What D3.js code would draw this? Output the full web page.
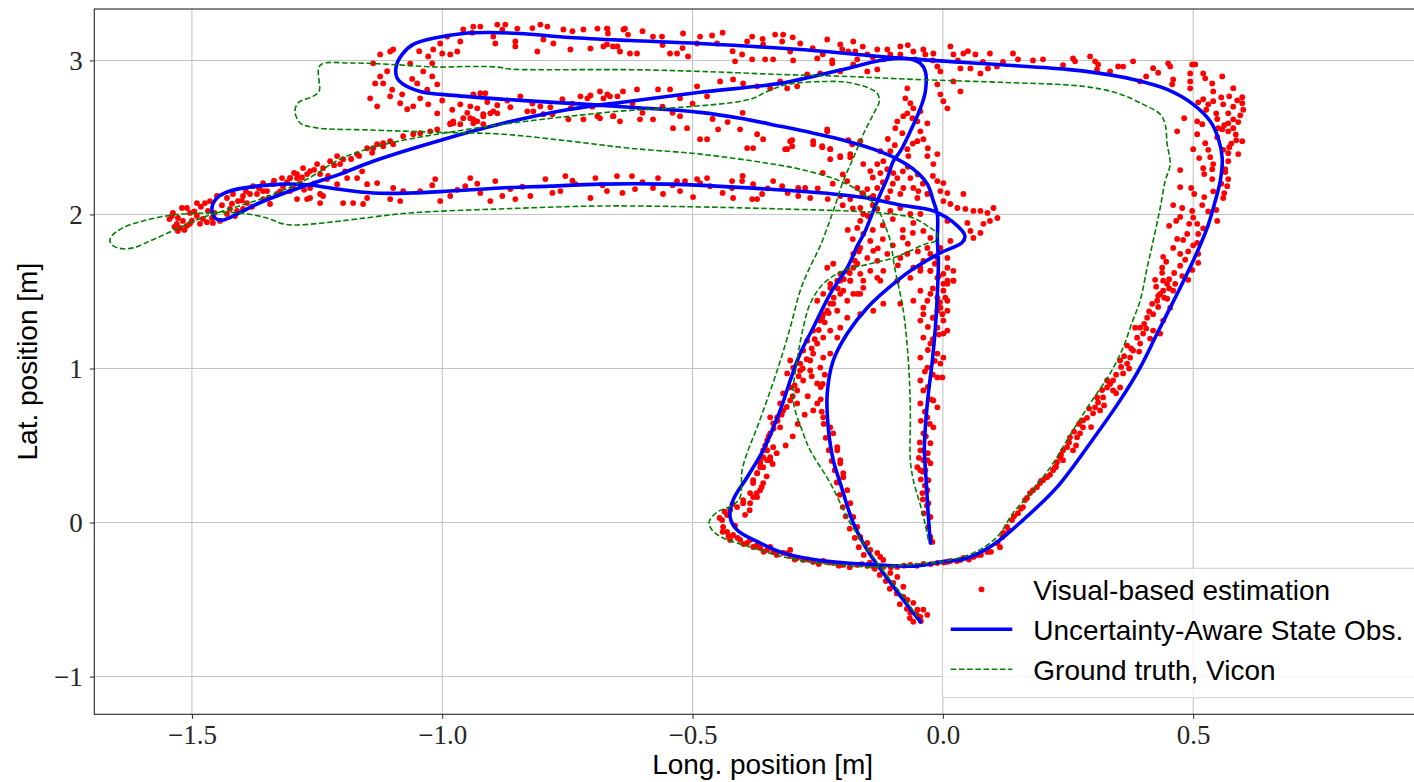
<!DOCTYPE html>
<html>
<head>
<meta charset="utf-8">
<script src="https://cdn.jsdelivr.net/npm/d3@7"></script>
<style>
    body { margin: 0; background: #fff; }
    svg { display: block; }
</style>
</head>
<body>
<svg id="chart" width="1414" height="782"></svg>
<script>
const xTicks = [-1.5, -1.0, -0.5, 0.0, 0.5];
const yTicks = [-1, 0, 1, 2, 3];
const seriesNames = ["Visual-based estimation", "Uncertainty-Aware State Obs.", "Ground truth, Vicon"];

// visual-based position estimates [long, lat] in m
const visualPoints = [
    // upper-left loop
    [-1.138,2.981],[-1.124,2.896],[-1.118,2.851],[-1.104,2.767],[-1.130,2.702],[-1.084,2.722],[-1.070,2.683],[-1.058,2.702],[-1.044,2.754],[-1.050,2.851],
    [-1.038,2.929],[-1.020,2.896],[-1.020,2.981],[-1.028,3.026],[-1.018,3.071],[-1.004,3.110],[-1.000,3.045],[-0.990,3.155],[-0.958,3.201],[-0.938,3.220],
    [-0.924,3.220],[-0.890,3.233],[-0.874,3.233],[-0.850,3.207],[-0.804,3.233],[-0.790,3.220],[-0.758,3.201],[-0.718,3.201],[-0.690,3.207],[-0.670,3.207],
    [-0.638,3.201],[-0.898,3.155],[-0.894,3.110],[-0.854,3.123],[-0.854,3.091],[-0.810,3.058],[-0.798,3.136],[-0.778,3.110],[-0.744,3.071],[-0.704,3.078],
    [-0.678,3.091],[-0.650,3.091],[-0.964,3.123],[-0.984,3.039],[-0.970,3.058],[-1.104,3.058],[-1.098,3.071],[-1.124,3.039],
    [-0.938,2.780],[-0.924,2.787],[-0.914,2.787],[-0.964,2.715],[-0.944,2.702],[-0.930,2.689],[-0.890,2.709],[-0.864,2.696],[-0.844,2.767],[-0.830,2.670],
    [-0.818,2.670],[-0.804,2.702],[-0.798,2.651],[-0.784,2.696],[-0.760,2.748],[-0.744,2.689],[-0.724,2.767],[-0.710,2.754],[-0.704,2.773],[-0.678,2.754],
    [-0.670,2.780],[-0.650,2.767],[-0.658,2.638],[-0.690,2.638],[-0.718,2.618],[-0.748,2.618],[-0.898,2.670],[-0.918,2.651],[-0.938,2.618],[-0.958,2.625],
    [-0.978,2.592],[-0.984,2.586],[-1.010,2.657],[-1.028,2.715],[-1.010,2.845],[-1.144,2.754],[-1.134,2.851],
    [-1.110,2.930],[-1.100,2.810],[-1.080,2.780],[-1.060,2.880],[-1.064,2.980],[-1.046,3.060],[-1.030,2.810],[-1.000,2.740],[-0.980,2.680],[-0.950,2.660],
    [-0.910,2.730],[-0.870,2.740],[-0.820,2.720],[-0.780,2.650],[-0.740,2.720],[-0.700,2.700],[-0.620,2.720],[-0.600,2.660],[-0.560,2.700],[-0.540,2.660],
    [-0.500,2.720],[-0.460,2.620],[-0.430,2.600],[-0.400,2.660],
    // top straight
    [-0.671,3.207],[-0.669,3.175],[-0.635,3.207],[-0.629,3.168],[-0.671,3.104],[-0.659,3.091],[-0.645,3.058],[-0.625,3.045],[-0.611,3.045],[-0.579,3.155],
    [-0.561,3.155],[-0.545,3.045],[-0.531,3.045],[-0.519,3.175],[-0.509,3.026],[-0.491,3.110],[-0.485,3.155],[-0.461,3.162],[-0.451,3.110],[-0.415,2.994],
    [-0.401,3.039],[-0.391,3.123],[-0.381,3.155],[-0.381,3.007],[-0.359,3.104],[-0.355,3.007],[-0.339,3.007],[-0.335,3.168],[-0.321,3.123],[-0.319,3.168],
    [-0.305,3.058],[-0.299,3.000],[-0.285,3.110],[-0.251,3.013],[-0.231,3.136],[-0.221,3.000],[-0.205,3.104],[-0.201,3.071],[-0.189,3.058],[-0.179,3.123],
    [-0.175,3.058],[-0.171,3.007],[-0.151,3.039],[-0.131,3.071],[-0.119,3.007],[-0.111,3.071],[-0.105,3.039],[-0.085,3.091],[-0.085,3.039],[-0.059,3.058],
    [-0.055,3.007],[-0.039,3.071],[-0.035,3.039],[-0.019,3.045],[-0.011,2.961],[-0.005,2.929],[0.015,3.091],[0.021,3.039],[0.035,2.948],[0.041,3.045],
    [0.055,2.948],[0.065,3.039],[0.075,2.916],[0.094,3.045],[0.090,2.948],[0.108,2.961],
    [-0.011,2.845],[0.001,2.735],[0.035,2.799],[0.021,2.864],[-0.005,2.780],[0.009,2.689],
    [-0.600,3.190],[-0.560,3.100],[-0.520,3.080],[-0.440,3.180],[-0.420,3.060],[-0.360,3.140],[-0.300,3.150],[-0.260,3.080],[-0.240,3.040],[-0.160,3.090],
    [-0.140,3.020],[-0.070,3.100],[-0.020,3.000],[0.030,3.000],[0.050,3.060],[0.080,2.990],[-0.820,3.210],[-0.740,3.190],[-0.880,3.200],[-0.940,3.180],
    // middle diagonals
    [-0.685,2.799],[-0.665,2.767],[-0.639,2.799],[-0.611,2.812],[-0.569,2.812],[-0.545,2.812],[-0.525,2.754],[-0.491,2.832],[-0.471,2.767],[-0.445,2.864],
    [-0.419,2.877],[-0.399,2.851],[-0.371,2.832],[-0.345,2.819],[-0.325,2.864],[-0.311,2.819],[-0.291,2.832],[-0.271,2.909],[-0.245,2.916],[-0.221,2.981],
    [-0.205,2.929],[-0.179,2.974],[-0.151,2.929],[-0.131,2.942],
    [-0.685,2.625],[-0.659,2.638],[-0.645,2.605],[-0.605,2.618],[-0.579,2.618],[-0.539,2.560],[-0.525,2.638],[-0.511,2.560],[-0.485,2.489],[-0.471,2.489],
    [-0.449,2.553],[-0.405,2.553],[-0.391,2.431],[-0.379,2.431],[-0.371,2.521],[-0.359,2.489],[-0.311,2.424],[-0.301,2.482],[-0.259,2.456],[-0.241,2.437],
    [-0.225,2.424],[-0.225,2.359],[-0.205,2.372],[-0.189,2.482],[-0.185,2.372],[-0.231,2.540],
    // centre cluster
    [-0.071,2.819],[-0.075,2.754],[-0.065,2.722],[-0.059,2.689],[-0.071,2.657],[-0.079,2.638],[-0.061,2.625],[-0.045,2.670],[-0.051,2.605],[-0.031,2.592],
    [-0.091,2.605],[-0.095,2.560],[-0.081,2.528],[-0.045,2.540],[-0.039,2.489],[-0.051,2.476],[-0.071,2.424],[-0.069,2.379],[-0.031,2.379],[-0.019,2.327],
    [-0.011,2.392],[-0.125,2.411],[-0.105,2.411],[-0.131,2.327],[-0.119,2.346],[-0.111,2.294],[-0.125,2.269],[-0.099,2.269],[-0.091,2.236],[-0.065,2.236],
    [-0.059,2.172],[-0.049,2.152],[-0.031,2.133],[-0.051,2.107],[-0.079,2.172],[-0.085,2.133],[-0.105,2.152],[-0.111,2.107],[-0.131,2.172],[-0.151,2.165],
    [-0.161,2.139],[-0.145,2.107],[-0.165,2.042],[-0.131,2.036],[-0.105,2.023],[-0.085,2.042],[-0.065,2.003],[-0.045,2.003],[-0.059,1.945],[-0.039,1.893],
    [-0.025,1.848],[-0.031,1.783],[-0.025,1.744],[-0.039,1.699],[-0.025,1.634],[-0.011,1.589],[0.001,1.615],[0.009,1.570],[0.001,1.505],[-0.011,1.460],
    [-0.005,1.395],[-0.019,1.330],
    [-0.100,2.200],[-0.120,2.210],[-0.140,2.240],[-0.080,2.280],[-0.070,2.310],[-0.050,2.260],[-0.040,2.200],[-0.020,2.250],[-0.096,2.450],[-0.060,2.460],
    [-0.030,2.430],[-0.110,2.490],[-0.140,2.060],[-0.150,1.990],[-0.120,1.930],[-0.140,1.900],[-0.100,1.970],[-0.080,1.900],[-0.120,1.840],[-0.100,1.800],
    [-0.080,1.850],[-0.130,1.780],[-0.060,1.880],[-0.070,1.810],[-0.050,1.760],[-0.090,1.670],[-0.180,1.840],[-0.190,1.900],[-0.180,2.040],[-0.200,2.060],
    [-0.220,2.200],[-0.240,2.270],[-0.200,2.260],
    [-0.011,2.217],[0.001,2.204],[-0.005,2.152],[0.009,2.139],[0.001,2.087],[0.015,2.068],[0.029,2.042],[0.041,2.133],[0.045,2.036],[0.061,2.023],
    [0.075,2.023],[0.089,2.010],[0.101,2.042],[0.094,1.958],[0.081,1.939],[0.075,1.880],[0.055,1.893],[0.049,1.945],[0.109,1.977],[0.061,1.848],
    [0.009,1.958],[0.015,1.828],[-0.005,1.783],[-0.011,1.718],
    [-0.231,2.553],[-0.259,2.476],[-0.305,2.476],[-0.301,2.443],[-0.315,2.424],[-0.225,2.424],[-0.241,2.443],[-0.205,2.379],[-0.185,2.392],[-0.165,2.476],
    [-0.181,2.456],[-0.159,2.327],[-0.145,2.282],[-0.191,2.217],[-0.171,2.172],[-0.159,2.133],[-0.139,2.120],[-0.185,2.100],[-0.205,2.120],[-0.159,2.003],
    [-0.165,1.958],[-0.171,1.913],[-0.159,1.874],[-0.145,1.828],[-0.139,1.764],[-0.151,1.718],[-0.131,1.699],[-0.165,1.783],[-0.179,1.744],[-0.171,1.680],
    [-0.191,1.634],[-0.205,1.615],[-0.211,1.570],[-0.225,1.524],[-0.205,1.485],[-0.191,1.440],[-0.171,1.485],[-0.219,1.421],[-0.231,1.375],[-0.241,1.330],
    [-0.185,1.570],[-0.159,1.524],
    [-0.111,1.744],[-0.085,1.718],[-0.071,1.744],[-0.059,1.654],[-0.045,1.634],[-0.065,1.589],[-0.091,1.570],[-0.119,1.634],[-0.125,1.570],[-0.045,1.505],
    [-0.031,1.440],[-0.059,1.440],[-0.085,1.421],[-0.119,1.421],[-0.139,1.375],[-0.165,1.353],[-0.039,1.353],[0.009,1.440],[0.021,1.570],[0.021,1.634],
    [0.009,1.718],
    // descending band
    [-0.231,1.654],[-0.219,1.680],[-0.191,1.634],[-0.179,1.654],[-0.165,1.615],[-0.145,1.634],[-0.131,1.589],[-0.159,1.570],[-0.185,1.570],[-0.205,1.570],
    [-0.225,1.550],[-0.179,1.485],[-0.165,1.485],[-0.199,1.505],[-0.239,1.485],[-0.251,1.440],[-0.225,1.421],[-0.211,1.375],[-0.239,1.353],[-0.191,1.330],
    [-0.205,1.265],[-0.225,1.246],[-0.245,1.311],[-0.259,1.246],[-0.239,1.201],[-0.251,1.162],[-0.211,1.201],[-0.271,1.181],[-0.279,1.117],[-0.259,1.097],
    [-0.239,1.071],[-0.225,1.097],[-0.265,1.052],[-0.285,1.032],[-0.305,1.052],[-0.299,1.006],[-0.311,0.968],[-0.285,0.987],[-0.265,0.987],[-0.245,1.006],
    [-0.279,0.922],[-0.305,0.877],[-0.319,0.838],[-0.291,0.858],[-0.251,0.903],[-0.305,0.793],[-0.291,0.773],[-0.325,0.773],[-0.319,0.728],[-0.251,0.773],
    [-0.259,0.728],[-0.331,0.683],[-0.345,0.683],[-0.339,0.644],[-0.325,0.618],[-0.345,0.579],[-0.351,0.534],[-0.339,0.489],[-0.359,0.469],[-0.345,0.424],
    [-0.365,0.405],[-0.359,0.359],[-0.371,0.320],[-0.379,0.275],[-0.219,0.579],[-0.211,0.489],[-0.205,0.405],[-0.199,0.320],[-0.225,0.618],[-0.239,0.683],
    [-0.355,0.500],[-0.348,0.560],[-0.338,0.610],[-0.330,0.660],[-0.322,0.700],[-0.312,0.750],[-0.300,0.820],[-0.296,0.890],[-0.288,0.950],[-0.280,1.000],
    [-0.272,1.060],[-0.262,1.130],[-0.256,1.190],[-0.248,1.250],[-0.236,1.300],[-0.228,1.360],[-0.218,1.460],[-0.210,1.520],[-0.198,1.580],[-0.186,1.620],
    [-0.176,1.700],[-0.168,1.760],[-0.332,0.450],[-0.340,0.380],[-0.352,0.300],[-0.362,0.230],[-0.372,0.190],[-0.386,0.080],[-0.395,0.050],[-0.270,0.820],
    [-0.262,0.950],[-0.244,0.880],[-0.276,0.700],[-0.290,0.640],[-0.300,0.560],[-0.314,0.500],
    [-0.236,0.960],[-0.240,0.900],[-0.244,0.800],[-0.242,0.720],[-0.238,0.640],[-0.234,0.550],[-0.228,0.470],[-0.222,0.400],[-0.216,0.340],[-0.212,0.260],
    [-0.206,0.180],[-0.200,0.100],[-0.194,0.040],[-0.186,-0.040],[-0.176,-0.100],[-0.168,-0.160],[-0.158,-0.210],[-0.146,-0.260],[-0.136,-0.300],[-0.126,-0.340],
    [-0.114,-0.380],[-0.106,-0.430],[-0.092,-0.460],[-0.086,-0.530],[-0.072,-0.560],[-0.066,-0.620],[-0.052,-0.600],[-0.044,-0.640],
    // near vertical
    [-0.045,1.654],[-0.025,1.634],[0.009,1.654],[0.021,1.570],[0.001,1.550],[-0.025,1.485],[-0.039,1.395],[-0.011,1.375],[0.009,1.375],[-0.045,1.311],
    [-0.011,1.265],[0.001,1.311],[-0.039,1.201],[-0.025,1.162],[0.001,1.227],[-0.045,1.071],[-0.011,1.097],[-0.005,1.032],[-0.031,1.006],[-0.045,0.922],
    [-0.011,0.942],[-0.039,0.858],[-0.019,0.793],[-0.045,0.773],[-0.011,0.748],[-0.031,0.683],[-0.019,0.618],[-0.039,0.579],[-0.025,0.515],[-0.045,0.469],
    [-0.039,0.405],[-0.051,0.359],[-0.025,0.385],
    [-0.038,0.060],[-0.032,0.110],[-0.040,0.150],[-0.036,0.240],[-0.044,0.280],[-0.040,0.330],[-0.048,0.420],[-0.030,0.450],[-0.046,0.520],[-0.034,0.560],
    [-0.026,0.640],[-0.044,0.660],[-0.036,0.720],[-0.024,0.800],[-0.030,0.880],[-0.020,0.960],[-0.036,0.980],[-0.016,1.050],[-0.030,1.120],[-0.020,1.190],
    [-0.008,1.220],[-0.030,1.270],[-0.020,1.330],[-0.006,1.430],[-0.020,1.520],[-0.008,1.600],[-0.016,1.680],
    // bottom loop and diagonal
    [-0.359,0.424],[-0.365,0.385],[-0.371,0.320],[-0.379,0.256],[-0.385,0.191],[-0.399,0.146],[-0.411,0.100],[-0.425,0.081],[-0.431,0.049],[-0.441,0.016],
    [-0.439,-0.029],[-0.431,-0.061],[-0.419,-0.081],[-0.425,-0.113],[-0.405,-0.113],[-0.391,-0.133],[-0.379,-0.159],[-0.365,-0.165],[-0.351,-0.178],[-0.339,-0.191],
    [-0.319,-0.197],[-0.305,-0.217],[-0.291,-0.230],[-0.279,-0.243],[-0.259,-0.256],[-0.239,-0.249],[-0.219,-0.262],[-0.199,-0.275],[-0.171,-0.275],[-0.151,-0.282],
    [-0.119,-0.288],[-0.091,-0.288],[-0.065,-0.275],[-0.039,-0.269],[-0.011,-0.262],[0.015,-0.249],[0.041,-0.230],[0.069,-0.211],[0.089,-0.178],[0.109,-0.133],
    [-0.345,-0.159],[-0.305,-0.178],[-0.385,-0.113],[-0.365,0.359],[-0.351,0.405],[-0.359,0.256],[-0.379,0.165],
    [-0.351,0.469],[-0.345,0.405],[-0.365,0.210],[-0.371,0.165],[-0.385,0.126],[-0.399,0.126],
    [-0.446,0.030],[-0.436,0.070],[-0.420,0.120],[-0.415,-0.020],[-0.440,-0.060],[-0.428,-0.090],[-0.410,-0.100],[-0.398,-0.140],[-0.372,-0.150],[-0.358,-0.190],
    [-0.332,-0.210],[-0.312,-0.200],[-0.296,-0.240],[-0.270,-0.240],[-0.248,-0.270],[-0.228,-0.260],[-0.208,-0.280],[-0.186,-0.290],[-0.162,-0.270],[-0.138,-0.290],
    [-0.104,-0.290],[-0.078,-0.280],[-0.052,-0.280],[-0.024,-0.270],[0.002,-0.260],[0.028,-0.250],[0.052,-0.240],[0.076,-0.210],[0.096,-0.190],[0.114,-0.160],
    [-0.211,0.469],[-0.205,0.385],[-0.199,0.294],[-0.191,0.210],[-0.185,0.126],[-0.179,0.036],[-0.171,-0.029],[-0.165,-0.094],[-0.151,-0.133],[-0.145,-0.178],
    [-0.131,-0.197],[-0.125,-0.223],[-0.119,-0.243],[-0.105,-0.327],[-0.091,-0.353],[-0.099,-0.392],[-0.079,-0.417],[-0.079,-0.482],[-0.071,-0.502],[-0.059,-0.521],
    [-0.051,-0.566],[-0.065,-0.586],[-0.045,-0.612],[-0.059,-0.644],[-0.031,-0.599],[-0.039,-0.566],
    [-0.039,0.469],[-0.031,0.405],[-0.035,0.340],[-0.029,0.275],[-0.031,0.210],[-0.029,0.126],[-0.025,0.036],[-0.029,-0.029],[-0.025,-0.094],[-0.021,-0.126],
    [-0.045,0.340],[-0.041,0.191],
    // right ascending
    [0.009,-0.256],[0.035,-0.243],[0.061,-0.223],[0.089,-0.191],[0.109,-0.133],[0.119,-0.094],[0.128,-0.029],[0.138,0.016],[0.150,0.061],[0.164,0.146],
    [0.174,0.191],[0.188,0.230],[0.194,0.256],[0.208,0.294],[0.220,0.340],[0.228,0.392],[0.234,0.424],[0.240,0.405],[0.248,0.489],[0.260,0.469],
    [0.268,0.553],[0.274,0.579],[0.280,0.618],[0.300,0.709],[0.304,0.748],[0.314,0.728],[0.320,0.812],[0.328,0.877],[0.340,0.922],[0.340,0.858],
    [0.354,0.877],[0.360,0.968],[0.368,1.032],[0.374,1.071],[0.380,1.117],[0.394,1.162],[0.400,1.227],[0.394,1.265],[0.408,1.330],[0.420,1.353],
    [0.428,1.440],[0.434,1.485],[0.420,1.246],[0.414,1.194],[0.384,1.265],[0.368,1.149],[0.354,1.052],[0.328,0.922],[0.308,0.812],[0.280,0.663],
    [0.254,0.553],[0.240,0.469],[0.224,0.359],[0.200,0.275],[0.160,0.100],[0.121,-0.068],[0.448,1.550],[0.460,1.505],[0.454,1.395],[0.440,1.311],
    [0.434,1.227],[0.009,1.550],[0.005,1.460],[-0.001,1.353],[0.009,1.246],[0.001,1.071],[-0.001,0.942],
    [0.132,-0.050],[0.142,0.040],[0.156,0.090],[0.168,0.160],[0.180,0.210],[0.196,0.270],[0.214,0.310],[0.226,0.360],[0.236,0.440],[0.252,0.520],
    [0.262,0.590],[0.272,0.640],[0.288,0.680],[0.292,0.740],[0.310,0.780],[0.318,0.860],[0.334,0.900],[0.346,0.960],[0.356,1.010],[0.362,1.080],
    [0.376,1.130],[0.388,1.200],[0.402,1.290],[0.412,1.370],[0.418,1.420],[0.430,1.400],[0.442,1.460],[0.452,1.520],[0.406,1.260],[0.392,1.110],
    [0.372,1.000],[0.346,0.840],[0.322,0.760],[0.296,0.620],[0.266,0.500],
    // right loop
    [0.140,3.045],[0.150,3.007],[0.200,3.007],[0.260,3.013],[0.264,2.994],[0.294,3.026],[0.304,2.994],[0.310,2.974],[0.308,2.942],[0.334,2.929],
    [0.350,2.961],[0.380,2.994],[0.450,2.981],[0.454,2.961],[0.498,2.974],[0.504,2.974],[0.406,2.896],[0.394,2.864],[0.460,2.877],[0.458,2.845],
    [0.494,2.916],[0.494,2.864],[0.494,2.819],[0.520,2.916],[0.524,2.884],[0.538,2.851],[0.558,2.896],[0.540,2.799],[0.572,2.767],[0.520,2.748],
    [0.510,2.728],[0.530,2.715],[0.540,2.735],[0.560,2.715],[0.588,2.741],[0.598,2.761],[0.598,2.722],[0.594,2.644],[0.580,2.618],[0.570,2.657],
    [0.546,2.657],[0.550,2.560],[0.570,2.592],[0.580,2.560],[0.570,2.540],[0.558,2.553],[0.518,2.586],[0.508,2.605],[0.482,2.625],[0.468,2.540],
    [0.508,2.521],[0.524,2.463],[0.500,2.424],[0.548,2.502],[0.572,2.437],[0.586,2.482],[0.598,2.476],[0.590,2.392],[0.570,2.398],[0.570,2.346],
    [0.534,2.372],[0.540,2.327],[0.538,2.294],[0.512,2.366],[0.564,2.294],[0.564,2.275],[0.570,2.230],[0.568,2.184],[0.562,2.139],[0.560,2.107],
    [0.522,2.262],[0.538,2.230],[0.474,2.288],[0.474,2.178],[0.496,2.172],[0.502,2.133],[0.522,2.113],[0.518,2.061],[0.460,2.061],[0.478,2.042],
    [0.498,2.023],[0.546,2.029],[0.548,1.958],[0.492,1.939],[0.508,1.939],[0.466,1.958],[0.452,1.926],[0.474,1.984],[0.488,1.874],[0.468,1.841],
    [0.480,1.835],[0.510,1.874],[0.508,1.816],[0.460,1.783],[0.474,1.744],[0.484,1.706],[0.510,1.744],[0.510,1.686],[0.440,1.725],[0.446,1.693],
    [0.438,1.654],[0.438,1.621],[0.474,1.667],[0.490,1.576],[0.464,1.550],[0.424,1.576],[0.440,1.570],[0.426,1.531],[0.440,1.505],[0.430,1.472],
    [0.448,1.453],
    [0.580,2.700],[0.590,2.600],[0.585,2.520],[0.576,2.460],[0.560,2.420],[0.548,2.620],[0.562,2.580],[0.526,2.680],[0.556,2.760],[0.580,2.820],
    [0.600,2.680],[0.530,2.420],[0.520,2.300],[0.556,2.200],[0.540,2.150],[0.530,2.020],[0.500,1.980],[0.520,1.910],[0.500,1.800],[0.490,1.760],
    [0.498,1.640],[0.478,1.600],[0.462,1.620],[0.452,1.580],[0.430,2.920],[0.420,2.950],[0.360,2.960],[0.240,2.970],[0.180,3.000],[0.120,2.990],
    // long horizontal
    [-0.671,2.152],[-0.651,2.249],[-0.621,2.249],[-0.615,2.165],[-0.579,2.172],[-0.569,2.236],[-0.559,2.133],[-0.531,2.217],[-0.525,2.152],[-0.515,2.217],
    [-0.499,2.113],[-0.491,2.230],[-0.485,2.204],[-0.471,2.236],[-0.465,2.184],[-0.421,2.217],[-0.421,2.172],[-0.419,2.107],[-0.401,2.217],[-0.381,2.100],
    [-0.379,2.197],[-0.371,2.100],[-0.361,2.133],[-0.339,2.217],[-0.321,2.184],[-0.289,2.172],[-0.289,2.120],[-0.275,2.172],[-0.265,2.107],
    [-1.044,2.152],[-1.014,2.230],[-0.984,2.120],[-0.954,2.184],[-0.924,2.139],[-0.894,2.217],[-0.864,2.165],[-0.824,2.120],[-0.794,2.230],[-0.764,2.152],
    [-0.734,2.197],[-0.704,2.107],[-0.944,2.236],[-0.854,2.100],[-0.754,2.249],[-0.694,2.236],[-1.004,2.087],[-0.904,2.087],
    [-1.230,2.230],[-1.210,2.197],[-1.190,2.236],[-1.170,2.236],[-1.198,2.074],[-1.178,2.074],[-1.158,2.068],[-1.150,2.107],[-1.150,2.197],[-1.130,2.204],
    [-1.098,2.172],[-1.084,2.087],[-1.078,2.152],[-1.104,2.100],[-1.244,2.074],[-1.238,2.120],[-1.264,2.107],
    [-1.020,2.190],[-0.970,2.160],[-0.930,2.200],[-0.880,2.120],[-0.840,2.180],[-0.780,2.140],[-0.740,2.220],[-0.680,2.190],[-0.640,2.140],[-0.600,2.210],
    [-0.540,2.190],[-0.440,2.140],[-0.400,2.250],[-0.350,2.170],[-0.310,2.140],[-0.250,2.170],[-0.230,2.100],
    // rising diagonal
    [-1.130,2.456],[-1.118,2.463],[-1.104,2.476],[-1.078,2.508],[-1.058,2.521],[-1.044,2.528],[-1.024,2.540],[-1.010,2.553],[-0.984,2.592],[-0.978,2.605],
    [-0.964,2.586],[-0.944,2.625],[-0.930,2.605],[-0.918,2.638],[-0.904,2.657],[-0.890,2.657],[-0.918,2.586],[-0.938,2.592],
    [-1.250,2.327],[-1.238,2.301],[-1.224,2.346],[-1.204,2.327],[-1.210,2.379],[-1.198,2.359],[-1.170,2.392],[-1.150,2.430],[-1.138,2.430],[-1.118,2.443],
    [-1.098,2.456],[-1.264,2.282],[-1.244,2.262],[-1.290,2.262],[-1.304,2.236],[-1.278,2.301],
    // left loop
    [-1.538,2.010],[-1.540,1.990],[-1.528,1.977],[-1.520,2.042],[-1.510,2.042],[-1.504,2.010],[-1.518,1.958],[-1.530,1.939],[-1.524,1.913],[-1.528,1.893],
    [-1.510,1.926],[-1.504,1.939],[-1.490,1.990],[-1.490,2.074],[-1.484,1.939],[-1.478,1.971],[-1.474,2.074],[-1.464,2.087],[-1.468,2.023],[-1.450,2.120],
    [-1.460,1.977],[-1.458,1.945],[-1.444,1.958],[-1.430,2.003],[-1.424,2.036],[-1.410,2.023],[-1.398,2.036],[-1.408,2.087],[-1.390,2.074],[-1.384,2.133],
    [-1.370,2.133],[-1.358,2.100],[-1.350,2.152],[-1.330,2.133],[-1.344,2.068],[-1.318,2.184],[-1.304,2.236],[-1.298,2.172],[-1.290,2.236],[-1.284,2.204],
    [-1.270,2.262],[-1.264,2.172],[-1.418,2.133],[-1.430,2.107],[-1.398,2.120],[-1.378,2.184],[-1.358,2.204],[-1.338,2.197],[-1.320,2.236],[-1.304,2.152],
    [-1.290,2.100],[-1.270,2.100],[-1.244,2.133],[-1.358,2.152],
    [-1.545,1.970],[-1.535,1.920],[-1.515,1.900],[-1.500,1.960],[-1.495,2.020],[-1.482,2.050],[-1.470,1.950],[-1.455,2.010],[-1.440,2.060],[-1.420,2.070],
    [-1.414,1.990],[-1.400,2.090],[-1.392,2.150],[-1.380,2.050],[-1.366,2.170],[-1.346,2.110],[-1.336,2.220],[-1.324,2.150],[-1.310,2.210],[-1.296,2.270],
    [-1.280,2.240],[-1.276,2.160],[-1.256,2.290],[-1.256,2.200],[-1.228,2.250],[-1.216,2.320],[-1.194,2.280],[-1.182,2.360],[-1.166,2.380],[-1.160,2.280],
    [-1.140,2.400]
];

// state observer output [long, lat] in m
const observerTrack = [
    [-0.025,-0.133],[-0.029,0.036],[-0.033,0.256],[-0.037,0.469],[-0.035,0.618],[-0.029,0.838],[-0.021,1.052],[-0.015,1.265],[-0.011,1.485],[-0.009,1.699],
    [-0.011,1.828],[-0.011,2.003],[-0.019,2.087],[-0.031,2.197],[-0.059,2.294],[-0.095,2.366],[-0.139,2.424],[-0.191,2.476],[-0.259,2.528],[-0.325,2.573],
    [-0.405,2.625],[-0.485,2.663],[-0.625,2.696],[-0.711,2.715],[-0.778,2.728],[-0.878,2.748],[-0.978,2.773],[-1.044,2.799],[-1.078,2.845],[-1.090,2.884],
    [-1.092,2.961],[-1.080,3.039],[-1.058,3.104],[-1.010,3.149],[-0.958,3.175],[-0.911,3.181],[-0.845,3.175],[-0.745,3.149],[-0.625,3.129],[-0.485,3.110],
    [-0.285,3.071],[-0.085,3.015],[0.115,2.972],[0.248,2.942],[0.314,2.916],[0.380,2.877],[0.448,2.812],[0.500,2.715],[0.534,2.605],[0.550,2.495],
    [0.558,2.366],[0.554,2.217],[0.544,2.087],[0.528,1.913],[0.500,1.699],[0.468,1.485],[0.428,1.227],[0.394,1.006],[0.354,0.793],[0.294,0.515],
    [0.228,0.230],[0.160,0.016],[0.100,-0.146],[0.049,-0.230],[-0.005,-0.256],[-0.051,-0.282],[-0.131,-0.275],[-0.251,-0.243],[-0.319,-0.197],[-0.365,-0.133],
    [-0.411,-0.049],[-0.425,0.036],[-0.419,0.146],[-0.391,0.294],[-0.359,0.469],[-0.325,0.728],[-0.305,0.922],[-0.285,1.097],[-0.259,1.265],[-0.225,1.485],
    [-0.189,1.667],[-0.171,1.796],[-0.155,1.893],[-0.139,2.023],[-0.125,2.133],[-0.111,2.236],[-0.099,2.346],[-0.085,2.411],[-0.065,2.540],[-0.045,2.689],
    [-0.035,2.799],[-0.035,2.929],[-0.045,2.981],[-0.071,3.013],[-0.125,3.000],[-0.191,2.948],[-0.259,2.896],[-0.325,2.851],[-0.485,2.793],[-0.625,2.735],
    [-0.745,2.683],[-0.878,2.592],[-1.010,2.476],[-1.138,2.346],[-1.204,2.262],[-1.264,2.197],[-1.304,2.152],[-1.370,2.068],[-1.410,2.003],[-1.438,1.964],
    [-1.454,1.977],[-1.460,2.042],[-1.450,2.107],[-1.424,2.152],[-1.370,2.184],[-1.318,2.197],[-1.264,2.191],[-1.210,2.165],[-1.138,2.139],[-1.064,2.139],
    [-0.984,2.152],[-0.884,2.172],[-0.784,2.184],[-0.685,2.197],[-0.551,2.197],[-0.351,2.165],[-0.219,2.133],[-0.151,2.107],[-0.085,2.061],[-0.019,2.023],
    [0.029,1.926],[0.044,1.861],[0.038,1.816],[-0.005,1.751],[-0.059,1.647],[-0.091,1.570],[-0.151,1.395],[-0.191,1.227],[-0.219,1.052],[-0.231,0.838],
    [-0.229,0.618],[-0.219,0.405],[-0.205,0.256],[-0.179,-0.003],[-0.151,-0.178],[-0.119,-0.327],[-0.079,-0.502],[-0.045,-0.644]
];

// Vicon ground truth [long, lat] in m
const viconTrack = [
    [-0.029,-0.113],[-0.035,-0.016],[-0.045,0.113],[-0.059,0.275],[-0.065,0.405],[-0.065,0.728],[-0.069,1.052],[-0.079,1.375],[-0.097,1.667],[-0.105,1.828],
    [-0.119,1.958],[-0.131,2.042],[-0.159,2.133],[-0.205,2.217],[-0.285,2.294],[-0.351,2.333],[-0.485,2.392],[-0.625,2.430],[-0.745,2.476],[-0.878,2.521],
    [-1.010,2.534],[-1.150,2.549],[-1.250,2.562],[-1.284,2.594],[-1.294,2.670],[-1.288,2.724],[-1.258,2.767],[-1.246,2.799],[-1.244,2.968],[-1.184,2.983],
    [-1.090,2.972],[-1.010,2.957],[-0.944,2.961],[-0.890,2.957],[-0.865,2.944],[-0.811,2.940],[-0.625,2.940],[-0.485,2.929],[-0.325,2.909],[-0.191,2.896],
    [-0.059,2.877],[0.115,2.858],[0.280,2.832],[0.348,2.788],[0.400,2.715],[0.434,2.651],[0.444,2.586],[0.448,2.456],[0.454,2.327],[0.444,2.217],
    [0.434,2.042],[0.420,1.828],[0.408,1.654],[0.394,1.440],[0.378,1.300],[0.360,1.136],[0.334,0.968],[0.294,0.773],[0.260,0.599],[0.220,0.385],
    [0.180,0.210],[0.140,0.061],[0.108,-0.094],[0.061,-0.197],[-0.005,-0.256],[-0.051,-0.269],[-0.131,-0.288],[-0.251,-0.262],[-0.319,-0.223],[-0.385,-0.159],
    [-0.439,-0.100],[-0.461,-0.049],[-0.467,0.003],[-0.451,0.068],[-0.419,0.113],[-0.405,0.165],[-0.401,0.340],[-0.389,0.469],[-0.371,0.618],[-0.331,0.987],
    [-0.305,1.265],[-0.285,1.505],[-0.269,1.634],[-0.245,1.796],[-0.219,2.023],[-0.199,2.217],[-0.179,2.366],[-0.159,2.521],[-0.139,2.651],[-0.127,2.735],
    [-0.131,2.786],[-0.151,2.825],[-0.191,2.858],[-0.219,2.864],[-0.311,2.845],[-0.351,2.799],[-0.385,2.748],[-0.551,2.689],[-0.625,2.676],[-0.745,2.638],
    [-0.878,2.586],[-1.010,2.521],[-1.078,2.482],[-1.144,2.430],[-1.204,2.359],[-1.270,2.230],[-1.357,2.107],[-1.424,2.036],[-1.470,1.990],[-1.504,1.945],
    [-1.570,1.848],[-1.618,1.783],[-1.638,1.777],[-1.657,1.796],[-1.664,1.828],[-1.660,1.861],[-1.638,1.913],[-1.598,1.958],[-1.538,1.997],[-1.470,2.010],
    [-1.404,2.010],[-1.350,1.977],[-1.318,1.939],[-1.290,1.932],[-1.238,1.945],[-1.170,1.971],[-1.064,2.010],[-0.884,2.036],[-0.685,2.055],[-0.485,2.049],
    [-0.325,2.036],[-0.191,2.023],[-0.125,2.010],[-0.059,1.977],[-0.025,1.913],[-0.011,1.874],[-0.015,1.828],[-0.035,1.809],[-0.065,1.764],[-0.099,1.718],
    [-0.145,1.680],[-0.199,1.634],[-0.239,1.550],[-0.265,1.421],[-0.279,1.265],[-0.291,1.052],[-0.299,0.793],[-0.279,0.579],[-0.265,0.469],[-0.225,0.256],
    [-0.185,-0.003],[-0.159,-0.133],[-0.131,-0.262],[-0.085,-0.456],[-0.051,-0.612]
];


const svg = d3.select('#chart');

const PLOT_LEFT = 94.3;
const PLOT_RIGHT = 1431;
const PLOT_TOP = 9;
const PLOT_BOTTOM = 714.3;

const TICK_FONT = '"Liberation Serif", "DejaVu Serif", serif';
const LABEL_FONT = '"Liberation Sans", Arial, sans-serif';

const x = d3.scaleLinear().domain([-1.695, 0.975]).range([PLOT_LEFT, PLOT_RIGHT]);
const y = d3.scaleLinear().domain([-1.245, 3.334]).range([PLOT_BOTTOM, PLOT_TOP]);

drawGrid();
drawData();
drawAxes();
drawLegend();


function drawGrid() {
    const grid = svg.append('g').attr('class', 'grid');

    grid.selectAll('.gx')
        .data(xTicks)
        .join('line')
        .attr('class', 'gx')
        .attr('x1', d => x(d))
        .attr('x2', d => x(d))
        .attr('y1', PLOT_TOP)
        .attr('y2', PLOT_BOTTOM)
        .attr('stroke', '#c4c4c4')
        .attr('stroke-width', 1.1);

    grid.selectAll('.gy')
        .data(yTicks)
        .join('line')
        .attr('class', 'gy')
        .attr('x1', PLOT_LEFT)
        .attr('x2', PLOT_RIGHT)
        .attr('y1', d => y(d))
        .attr('y2', d => y(d))
        .attr('stroke', '#c4c4c4')
        .attr('stroke-width', 1.1);
}

function drawData() {
    svg.append('defs')
        .append('clipPath')
        .attr('id', 'plot-clip')
        .append('rect')
        .attr('x', PLOT_LEFT)
        .attr('y', PLOT_TOP)
        .attr('width', PLOT_RIGHT - PLOT_LEFT)
        .attr('height', PLOT_BOTTOM - PLOT_TOP);

    const area = svg.append('g').attr('clip-path', 'url(#plot-clip)');

    area.append('g')
        .selectAll('circle')
        .data(visualPoints)
        .join('circle')
        .attr('cx', d => x(d[0]))
        .attr('cy', d => y(d[1]))
        .attr('r', 2.9)
        .attr('fill', '#ff0000');

    const line = d3.line()
        .x(d => x(d[0]))
        .y(d => y(d[1]))
        .curve(d3.curveCatmullRom.alpha(0.5));

    area.append('path')
        .datum(observerTrack)
        .attr('d', line)
        .attr('fill', 'none')
        .attr('stroke', '#0000ff')
        .attr('stroke-width', 3.6)
        .attr('stroke-linejoin', 'round')
        .attr('stroke-linecap', 'round');

    area.append('path')
        .datum(viconTrack)
        .attr('d', line)
        .attr('fill', 'none')
        .attr('stroke', '#008000')
        .attr('stroke-width', 1.6)
        .attr('stroke-dasharray', '5.6,2.6');
}

function drawAxes() {
    svg.append('rect')
        .attr('x', PLOT_LEFT)
        .attr('y', PLOT_TOP)
        .attr('width', PLOT_RIGHT - PLOT_LEFT)
        .attr('height', PLOT_BOTTOM - PLOT_TOP)
        .attr('fill', 'none')
        .attr('stroke', '#262626')
        .attr('stroke-width', 1.1);

    const xAxis = d3.axisBottom(x)
        .tickValues(xTicks)
        .tickFormat(d3.format('.1f'))
        .tickSize(4.5)
        .tickPadding(6);

    svg.append('g')
        .attr('transform', `translate(0,${PLOT_BOTTOM})`)
        .attr('color', '#262626')
        .call(xAxis)
        .call(g => g.select('.domain').remove())
        .call(g => g.selectAll('text')
            .attr('font-family', TICK_FONT)
            .attr('font-size', 27)
            .attr('fill', '#262626'));

    const yAxis = d3.axisLeft(y)
        .tickValues(yTicks)
        .tickFormat(d3.format('d'))
        .tickSize(4.5)
        .tickPadding(7);

    svg.append('g')
        .attr('transform', `translate(${PLOT_LEFT},0)`)
        .attr('color', '#262626')
        .call(yAxis)
        .call(g => g.select('.domain').remove())
        .call(g => g.selectAll('text')
            .attr('font-family', TICK_FONT)
            .attr('font-size', 27)
            .attr('fill', '#262626'));

    svg.append('text')
        .text('Long. position [m]')
        .attr('x', (PLOT_LEFT + PLOT_RIGHT) / 2)
        .attr('y', 774)
        .attr('text-anchor', 'middle')
        .attr('font-family', LABEL_FONT)
        .attr('font-size', 28)
        .attr('fill', '#000');

    svg.append('text')
        .text('Lat. position [m]')
        .attr('transform', `translate(37,${(PLOT_TOP + PLOT_BOTTOM) / 2}) rotate(-90)`)
        .attr('text-anchor', 'middle')
        .attr('font-family', LABEL_FONT)
        .attr('font-size', 28)
        .attr('fill', '#000');
}

function drawLegend() {
    const LEG_X = 942.3;
    const LEG_Y = 568.3;
    const ROW_H = 40;
    const HANDLE_X0 = 950.7;
    const HANDLE_X1 = 1012.3;

    const legend = svg.append('g').attr('class', 'legend');

    legend.append('rect')
        .attr('x', LEG_X)
        .attr('y', LEG_Y)
        .attr('width', 475)
        .attr('height', 129.4)
        .attr('rx', 4)
        .attr('fill', '#ffffff')
        .attr('fill-opacity', 0.8)
        .attr('stroke', '#d0d0d0')
        .attr('stroke-width', 1.1);

    seriesNames.forEach((name, i) => {
        const cy = LEG_Y + 21 + i * ROW_H;

        if (i === 0) {
            legend.append('circle')
                .attr('cx', (HANDLE_X0 + HANDLE_X1) / 2)
                .attr('cy', cy)
                .attr('r', 2.9)
                .attr('fill', '#ff0000');
        } else {
            legend.append('line')
                .attr('x1', HANDLE_X0)
                .attr('x2', HANDLE_X1)
                .attr('y1', cy)
                .attr('y2', cy)
                .attr('stroke', i === 1 ? '#0000ff' : '#008000')
                .attr('stroke-width', i === 1 ? 3.6 : 1.6)
                .attr('stroke-dasharray', i === 1 ? null : '5.6,2.6');
        }

        legend.append('text')
            .text(name)
            .attr('x', 1033.3)
            .attr('y', cy + 11)
            .attr('font-family', LABEL_FONT)
            .attr('font-size', 28)
            .attr('fill', '#000');
    });
}
</script>
</body>
</html>
